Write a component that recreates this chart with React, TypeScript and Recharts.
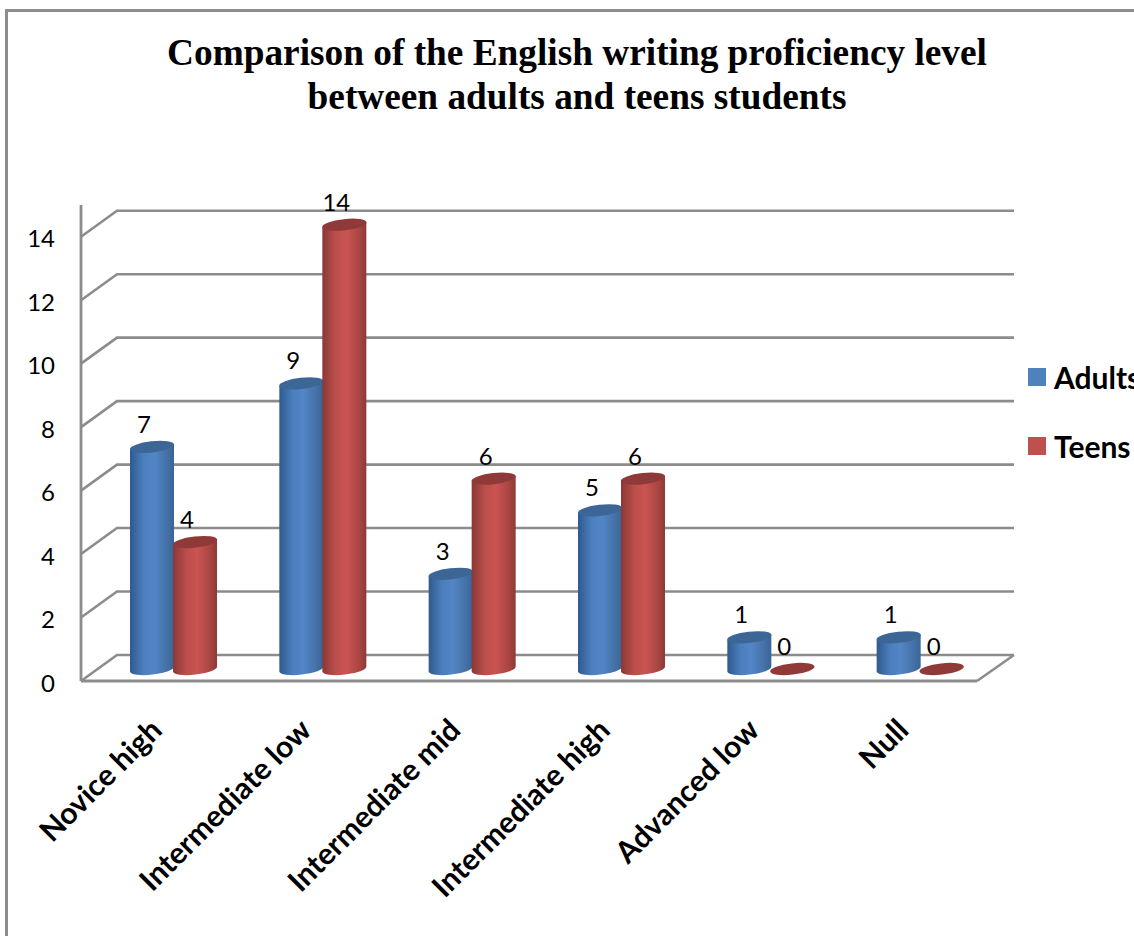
import { BarChart, Bar, XAxis, YAxis, CartesianGrid, Legend, LabelList } from 'recharts'

const categories = ['Novice high', 'Intermediate low', 'Intermediate mid', 'Intermediate high', 'Advanced low', 'Null']
const adults = [7, 9, 3, 5, 1, 1]
const teens = [4, 14, 6, 6, 0, 0]
const yTicks = [0, 2, 4, 6, 8, 10, 12, 14]

const data = categories.map((name, i) => ({ name, Adults: adults[i], Teens: teens[i] }))

const GRID = '#8c8c8c'
// depth of the fake 3D box
const DEPTH_X = 36
const DEPTH_Y = 26
// bars stand in the middle of the floor
const BAR_DX = 18
const BAR_DY = 12
const TILT = 2.5
const RY = 5.6

const tops: Record<string, string> = { Adults: '#3c6696', Teens: '#8f3a39' }

function GridLine(props: any) {
  const { x1, x2, y1, index } = props
  // the grid also strokes the top edge of the plot, which the box does not have
  if (y1 < 210) return null
  const back = `M${x1} ${y1}L${x1 + DEPTH_X} ${y1 - DEPTH_Y}L${x2 + DEPTH_X + 1} ${y1 - DEPTH_Y}`
  const isFloor = y1 > 670
  return (
    <path
      key={index}
      d={isFloor ? `${back}M${x2} ${y1}L${x2 + DEPTH_X + 1} ${y1 - DEPTH_Y}` : back}
      fill="none"
      stroke={GRID}
      strokeWidth={2.6}
    />
  )
}

function Cylinder(props: any) {
  const { x, y, width, height, dataKey } = props
  const cx = x + width / 2 + BAR_DX
  const top = y - BAR_DY
  const base = top + height
  const rx = width / 2
  const angle = (-Math.atan2(TILT, rx) * 180) / Math.PI
  const top2 = <ellipse cx={cx} cy={top} rx={rx + 0.3} ry={RY} fill={tops[dataKey]} transform={`rotate(${angle} ${cx} ${top})`} />
  if (height < 1) return top2
  const body =
    `M${cx - rx} ${top + TILT}L${cx - rx} ${base + TILT}` +
    `A${rx} ${RY} ${angle} 0 0 ${cx + rx} ${base - TILT}` +
    `L${cx + rx} ${top - TILT}Z`
  return (
    <g>
      <path d={body} fill={`url(#cyl${dataKey})`} />
      {top2}
    </g>
  )
}

function BarValue(props: any) {
  const { x, y, width, value } = props
  return (
    <text x={x + width / 2 + 10} y={y - 26} textAnchor="middle" fontFamily="Lato" fontSize={24} fill="#000">
      {value}
    </text>
  )
}

function CategoryTick(props: any) {
  const { x, y, payload } = props
  return (
    <text
      x={x + 8}
      y={y + 43}
      textAnchor="end"
      fontFamily="Lato"
      fontWeight={700}
      fontSize={30}
      fill="#000"
      transform={`rotate(-45 ${x + 8} ${y + 43})`}
    >
      {payload.value}
    </text>
  )
}

function LegendBox(props: any) {
  return (
    <div style={{ fontFamily: 'Lato', fontWeight: 700, fontSize: 30, color: '#000' }}>
      {props.payload.map((p: any) => (
        <div key={p.value} style={{ display: 'flex', alignItems: 'center', height: 69, whiteSpace: 'nowrap' }}>
          <span style={{ width: 18, height: 18, background: p.color, marginRight: 8, flex: 'none' }} />
          {p.value}
        </div>
      ))}
    </div>
  )
}

export default function App() {
  return (
    <div style={{ position: 'absolute', left: 0, top: 0, width: 1134, height: 936, overflow: 'hidden', background: '#fff' }}>
      <div
        style={{
          position: 'absolute',
          left: 5,
          top: 9,
          width: 1200,
          height: 1000,
          borderLeft: `3px solid ${GRID}`,
          borderTop: `3px solid ${GRID}`,
        }}
      />
      <div
        style={{
          position: 'absolute',
          left: 0,
          top: 31,
          width: 1154,
          textAlign: 'center',
          fontFamily: '"Liberation Serif"',
          fontWeight: 700,
          fontSize: 37.3,
          lineHeight: '44px',
          color: '#000',
        }}
      >
        Comparison of the English writing proficiency level
        <br />
        between adults and teens students
      </div>
      <BarChart
        width={1134}
        height={936}
        data={data}
        margin={{ top: 205, right: 27, bottom: 0, left: 0 }}
        barSize={44}
        barGap={-1}
        style={{ position: 'absolute', left: 0, top: 0 }}
      >
        <defs>
          <linearGradient id="cylAdults" x1="0" y1="0" x2="1" y2="0">
            <stop offset="0" stopColor="#2e5a8e" />
            <stop offset="0.3" stopColor="#4a7ebd" />
            <stop offset="0.55" stopColor="#5286c6" />
            <stop offset="0.85" stopColor="#4470a6" />
            <stop offset="1" stopColor="#3a6496" />
          </linearGradient>
          <linearGradient id="cylTeens" x1="0" y1="0" x2="1" y2="0">
            <stop offset="0" stopColor="#8a3836" />
            <stop offset="0.3" stopColor="#bb4e4b" />
            <stop offset="0.55" stopColor="#ca5452" />
            <stop offset="0.85" stopColor="#a84542" />
            <stop offset="1" stopColor="#8c3a38" />
          </linearGradient>
        </defs>
        <CartesianGrid vertical={false} horizontal={(p: any) => <GridLine {...p} />} />
        <XAxis
          dataKey="name"
          height={255}
          interval={0}
          tickLine={false}
          axisLine={{ stroke: GRID, strokeWidth: 2.8 }}
          tick={(p: any) => <CategoryTick {...p} />}
        />
        <YAxis
          width={81}
          domain={[0, 15]}
          ticks={yTicks}
          interval={0}
          tickLine={false}
          tickMargin={20}
          axisLine={{ stroke: GRID, strokeWidth: 2.8 }}
          tick={{ fontFamily: 'Lato', fontSize: 24, fill: '#000', dy: 2 }}
        />
        <Legend
          layout="vertical"
          align="right"
          verticalAlign="top"
          width={130}
          wrapperStyle={{ left: 1028, top: 342 }}
          content={(p: any) => <LegendBox {...p} />}
        />
        <Bar dataKey="Adults" fill="#4f81bd" isAnimationActive={false} shape={(p: any) => <Cylinder {...p} dataKey="Adults" />}>
          <LabelList dataKey="Adults" content={(p: any) => <BarValue {...p} />} />
        </Bar>
        <Bar dataKey="Teens" fill="#c0504d" isAnimationActive={false} shape={(p: any) => <Cylinder {...p} dataKey="Teens" />}>
          <LabelList dataKey="Teens" content={(p: any) => <BarValue {...p} />} />
        </Bar>
      </BarChart>
    </div>
  )
}
